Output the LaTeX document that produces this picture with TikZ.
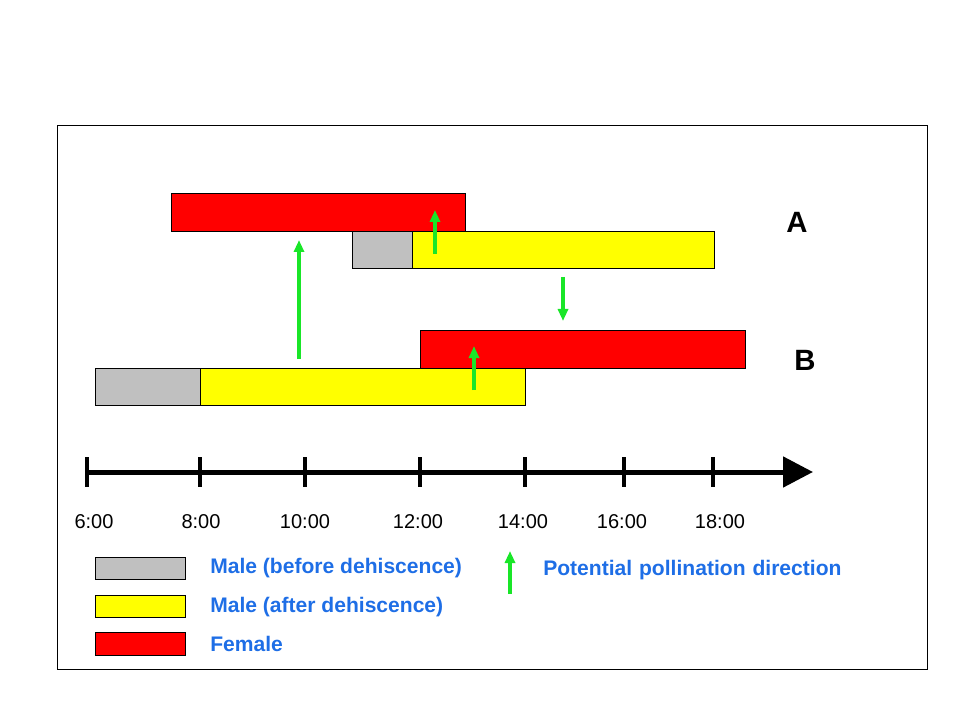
\documentclass[tikz,border=0pt]{standalone}
\usepackage{fontspec}
\setmainfont{Liberation Sans}
\usetikzlibrary{arrows.meta,fit}
\definecolor{legblue}{RGB}{30,110,230}
\definecolor{pgreen}{RGB}{25,230,40}
\definecolor{mgray}{RGB}{192,192,192}
\definecolor{myellow}{RGB}{255,255,0}
\definecolor{mred}{RGB}{255,0,0}
\begin{document}
\begin{tikzpicture}[x=0.75pt,y=-0.75pt,
  framebox/.style={draw=black, line width=0.75pt, inner sep=0pt},
  barbox/.style={draw=black, line width=0.75pt, inner sep=0pt},
  graybar/.style={barbox, fill=mgray},
  yellowbar/.style={barbox, fill=myellow},
  redbar/.style={barbox, fill=mred},
  pol/.style={draw=pgreen, line width=2.3pt, -{Triangle[length=9pt,width=7.5pt]}},
  tlabel/.style={font=\fontsize{15}{17}\selectfont, inner sep=0pt},
  legtext/.style={font=\bfseries\fontsize{15.8}{18}\selectfont, text=legblue, anchor=west, inner sep=0pt},
  biglabel/.style={font=\bfseries\fontsize{22}{24}\selectfont, inner sep=0pt},
  tick/.style={line width=2.5pt}]
\useasboundingbox (0,0) rectangle (960,720);
\node[framebox, fit={(57,126)(927,669)}] (frame) {};

% plant A
\node[redbar, fit={(171,194)(465,232)}] (fa) {};
\node[graybar, fit={(352,232)(412,269)}] (ga) {};
\node[yellowbar, fit={(412,232)(714,269)}] (ya) {};
% plant B
\node[redbar, fit={(420,330)(745,368)}] (fb) {};
\node[graybar, fit={(95,368)(200,405)}] (gb) {};
\node[yellowbar, fit={(200,368)(525,405)}] (yb) {};

\node[biglabel] (A) at (797,222) {A};
\node[biglabel] (B) at (805,360) {B};

% pollination arrows
\coordinate (g1s) at (299,359); \coordinate (g1e) at (299,240);
\coordinate (g2s) at (435,254); \coordinate (g2e) at (435,210);
\coordinate (g3s) at (563,277); \coordinate (g3e) at (563,321);
\coordinate (g4s) at (474,390); \coordinate (g4e) at (474,346);
\draw[pol] (g1s) -- (g1e);
\draw[pol] (g2s) -- (g2e);
\draw[pol] (g3s) -- (g3e);
\draw[pol] (g4s) -- (g4e);

% time axis
\coordinate (ax0) at (87,472); \coordinate (ax1) at (813,472);
\draw[line width=3.75pt, -{Triangle[length=22.5pt,width=22.5pt]}] (ax0) -- (ax1);
\foreach \x in {87,200,305,420,525,624,713} \draw[tick] (\x,457) -- (\x,487);
\node[tlabel] (t6) at (94,522) {6:00};
\node[tlabel] (t8) at (201,522) {8:00};
\node[tlabel] (t10) at (305,522) {10:00};
\node[tlabel] (t12) at (418,522) {12:00};
\node[tlabel] (t14) at (523,522) {14:00};
\node[tlabel] (t16) at (622,522) {16:00};
\node[tlabel] (t18) at (720,522) {18:00};

% legend
\node[graybar, fit={(95,557)(185,579)}] (lg) {};
\node[yellowbar, fit={(95,595)(185,617)}] (ly) {};
\node[redbar, fit={(95,632)(185,655)}] (lr) {};
\node[legtext] (lgt) at (210,568) {Male (before dehiscence)};
\node[legtext] (lyt) at (210,607) {Male (after dehiscence)};
\node[legtext] (lrt) at (210,644) {Female};
\coordinate (lps) at (510,594); \coordinate (lpe) at (510,551);
\draw[pol] (lps) -- (lpe);
\node[legtext] (lpt) at (543,570) {Potential\hspace{0.05em} pollination\hspace{0.05em} direction};
\end{tikzpicture}
\end{document}
